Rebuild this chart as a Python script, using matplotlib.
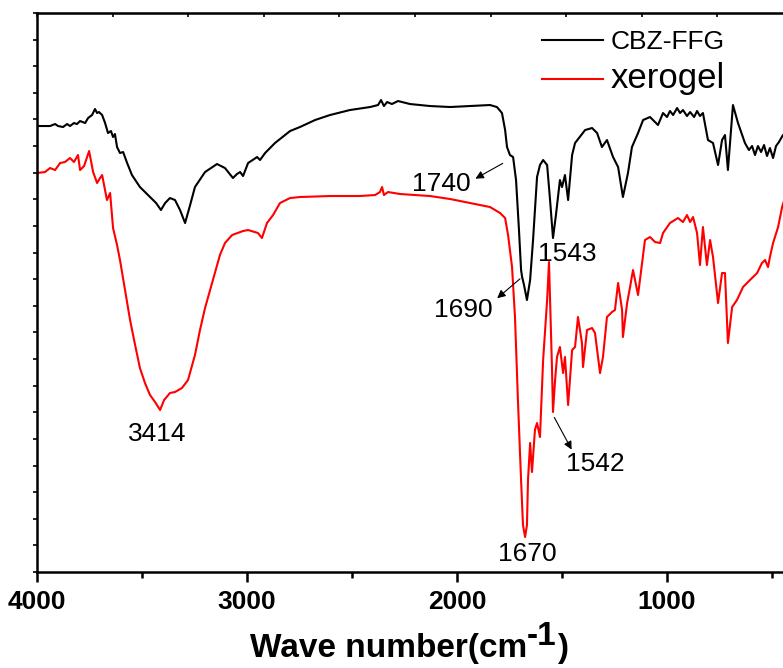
import numpy as np
import matplotlib
matplotlib.use('Agg')
import matplotlib.pyplot as plt

plt.rcParams['font.family'] = ['Liberation Sans', 'DejaVu Sans']

# CBZ-FFG spectrum (wavenumber cm-1, transmittance a.u.)
cbz_wn = [4000, 3995, 3938, 3914, 3900, 3876, 3857, 3843, 3824, 3810, 3795, 3771, 3757, 3738,
          3724, 3714, 3705, 3690, 3676, 3662, 3648, 3638, 3629, 3619, 3605, 3590, 3571, 3548,
          3510, 3462, 3433, 3410, 3390, 3367, 3343, 3319, 3295, 3271, 3248, 3200, 3143, 3105,
          3067, 3048, 3033, 3019, 2995, 2952, 2938, 2914, 2867, 2795, 2748, 2676, 2605, 2510,
          2414, 2376, 2362, 2348, 2333, 2310, 2281, 2224, 2129, 2033, 1938, 1843, 1810, 1786,
          1771, 1762, 1748, 1733, 1719, 1705, 1695, 1690, 1681, 1667, 1652, 1638, 1619, 1605,
          1590, 1571, 1557, 1543, 1529, 1510, 1500, 1486, 1471, 1452, 1438, 1390, 1357, 1333,
          1310, 1286, 1257, 1233, 1210, 1186, 1167, 1138, 1114, 1081, 1043, 1019, 1000, 986,
          971, 952, 938, 924, 905, 890, 871, 857, 843, 829, 805, 781, 757, 738, 724, 710, 686,
          662, 629, 610, 595, 581, 567, 552, 538, 524, 510, 495, 481, 467, 448, 414]
cbz_t = [44.6, 44.6, 44.6, 44.8, 44.6, 44.5, 44.8, 44.6, 44.9, 44.8, 45.1, 44.9, 45.4, 45.7,
         46.3, 45.9, 46.0, 45.7, 44.9, 43.9, 44.1, 43.5, 43.8, 42.5, 41.9, 42.0, 40.9, 39.7,
         38.5, 37.5, 36.9, 36.2, 36.9, 37.4, 37.2, 36.2, 34.9, 36.7, 38.5, 40.0, 40.8, 40.4,
         39.4, 39.8, 40.0, 39.6, 40.9, 41.5, 41.2, 41.9, 42.9, 44.1, 44.5, 45.2, 45.7, 46.2,
         46.5, 46.7, 47.2, 46.6, 47.0, 46.8, 47.1, 46.8, 46.6, 46.5, 46.6, 46.7, 46.5, 45.9,
         44.2, 42.5, 41.7, 41.5, 39.2, 34.2, 30.2, 29.5, 28.7, 27.2, 29.2, 33.2, 39.5, 40.7,
         41.2, 40.7, 37.2, 33.4, 35.7, 39.2, 38.5, 39.7, 37.2, 41.7, 42.9, 44.2, 44.4, 43.9,
         42.5, 43.2, 41.5, 40.5, 37.5, 39.9, 42.5, 43.9, 45.2, 45.5, 44.7, 45.9, 45.5, 46.1,
         45.7, 46.4, 45.9, 46.2, 45.6, 46.0, 45.5, 46.1, 45.6, 45.9, 43.2, 42.9, 40.7, 43.2,
         43.7, 40.2, 46.7, 44.9, 42.9, 42.2, 42.6, 41.7, 42.6, 42.0, 42.7, 41.6, 42.4, 41.4,
         42.6, 43.0, 43.7, 44.2]

# xerogel spectrum
xer_wn = [4000, 3962, 3938, 3914, 3890, 3867, 3843, 3824, 3805, 3795, 3776, 3752, 3733, 3714,
          3700, 3690, 3676, 3667, 3652, 3638, 3619, 3605, 3581, 3557, 3533, 3510, 3486, 3462,
          3438, 3414, 3395, 3367, 3343, 3310, 3281, 3248, 3224, 3200, 3176, 3152, 3129, 3105,
          3071, 3019, 2995, 2948, 2929, 2905, 2876, 2843, 2795, 2748, 2605, 2462, 2390, 2367,
          2357, 2348, 2329, 2271, 2129, 2033, 1938, 1843, 1795, 1771, 1757, 1738, 1724, 1710,
          1695, 1686, 1676, 1667, 1662, 1652, 1643, 1629, 1619, 1605, 1590, 1571, 1562, 1557,
          1548, 1543, 1533, 1524, 1510, 1495, 1486, 1471, 1452, 1438, 1424, 1405, 1400, 1381,
          1357, 1343, 1319, 1305, 1286, 1262, 1248, 1233, 1214, 1210, 1190, 1176, 1162, 1138,
          1119, 1105, 1081, 1057, 1033, 1019, 986, 948, 924, 905, 890, 876, 857, 843, 829, 810,
          795, 781, 757, 738, 724, 710, 690, 667, 638, 605, 571, 548, 533, 519, 510, 495, 471,
          452, 414]
xer_t = [39.9, 40.0, 40.4, 40.2, 40.9, 41.0, 41.4, 41.0, 41.7, 40.2, 40.6, 42.1, 40.0, 38.9,
         39.4, 39.7, 38.2, 37.2, 37.9, 34.4, 32.7, 31.2, 28.2, 25.2, 22.7, 20.4, 18.9, 17.7,
         17.0, 16.2, 17.2, 17.9, 18.0, 18.4, 19.2, 21.7, 24.2, 26.4, 28.2, 30.0, 31.7, 32.9,
         33.7, 34.1, 34.2, 33.9, 33.4, 34.9, 35.7, 36.9, 37.4, 37.5, 37.6, 37.6, 37.7, 38.0,
         38.5, 37.7, 38.0, 37.8, 37.6, 37.3, 36.9, 36.5, 35.9, 35.4, 33.7, 30.5, 25.5, 17.2,
         9.2, 4.7, 3.5, 4.7, 9.2, 12.9, 10.0, 14.2, 14.9, 13.5, 21.2, 27.2, 31.0, 27.2,
         20.5, 16.0, 19.2, 21.5, 22.5, 19.9, 21.5, 16.7, 22.2, 22.5, 25.5, 22.9, 20.5, 24.2,
         24.4, 23.9, 19.9, 21.5, 25.5, 26.0, 26.2, 28.9, 26.2, 23.5, 26.9, 28.5, 30.2, 27.7,
         30.9, 33.2, 33.5, 33.0, 32.9, 33.9, 34.9, 35.4, 35.0, 35.7, 35.0, 35.5, 33.9, 30.7,
         34.5, 30.7, 33.2, 31.5, 26.9, 29.9, 29.9, 22.9, 26.5, 27.2, 28.5, 29.2, 29.9, 30.9,
         31.2, 30.5, 31.5, 32.9, 34.5, 36.5, 39.2]

fig = plt.figure(figsize=(7.83, 6.68), dpi=100)
ax = fig.add_axes([0.0473, 0.1437, 0.9655, 0.8368])

ax.plot(cbz_wn, cbz_t, color='black', lw=1.5, label='CBZ-FFG', solid_joinstyle='round')
ax.plot(xer_wn, xer_t, color='#ff0000', lw=1.5, label='xerogel', solid_joinstyle='round')

ax.set_xlim(4000, 400)
ax.set_ylim(0, 55.9)

ax.set_xticks([4000, 3000, 2000, 1000])
ax.set_xticks([3500, 2500, 1500, 500], minor=True)
ax.set_yticks(np.linspace(0, 55.9, 22))
ax.set_yticklabels([])
for lab in ax.get_xticklabels():
    lab.set_fontweight('bold')
ax.tick_params(axis='x', which='major', direction='out', length=7, width=1.8,
               labelsize=19, pad=6)
ax.tick_params(axis='x', which='minor', direction='out', length=4, width=1.8)
ax.tick_params(axis='y', direction='out', length=3, width=1.2)
for s in ax.spines.values():
    s.set_linewidth(1.8)

# top axis ticks
top = ax.secondary_xaxis('top')
top.set_xticks(np.arange(4000, 399, -360))
top.tick_params(direction='in', length=3, width=1.2, labeltop=False)

# peak labels and arrows
arrow = dict(arrowstyle='-|>', color='black', lw=0.8, mutation_scale=12)
ax.annotate('', xy=(1924, 39.2), xytext=(1771, 41.0), arrowprops=arrow)
ax.text(2076, 38.8, '1740', fontsize=19, ha='center', va='center')
ax.annotate('', xy=(1819, 27.2), xytext=(1690, 29.5), arrowprops=arrow)
ax.text(1971, 26.2, '1690', fontsize=19, ha='center', va='center')
ax.text(1614, 31.8, '1543', fontsize=19, ha='left', va='center')
ax.text(3429, 13.8, '3414', fontsize=19, ha='center', va='center')
ax.text(1667, 1.8, '1670', fontsize=19, ha='center', va='center')
ax.annotate('', xy=(1448, 12.0), xytext=(1543, 15.7), arrowprops=arrow)
ax.text(1343, 10.8, '1542', fontsize=19, ha='center', va='center')

leg = ax.legend(loc='upper left', bbox_to_anchor=(542 / 783, 1 - 30 / 668),
                bbox_transform=fig.transFigure, frameon=False, fontsize=19,
                handlelength=2.3, handletextpad=0.3, labelspacing=0.3,
                borderpad=0, borderaxespad=0)
leg.get_texts()[1].set_fontsize(25)

# x axis title with raised exponent
t1 = fig.text(250 / 783, 1 - 657 / 668, 'Wave number(cm', fontsize=24,
              fontweight='bold', va='baseline')
fig.canvas.draw()
r = fig.canvas.get_renderer()
bb = t1.get_window_extent(r)
t2 = fig.text(bb.x1 / fig.bbox.width, 1 - 645 / 668, '-1',
              fontsize=24, fontweight='bold', va='baseline')
fig.canvas.draw()
bb2 = t2.get_window_extent(r)
fig.text(bb2.x1 / fig.bbox.width, 1 - 657 / 668, ')', fontsize=24,
         fontweight='bold', va='baseline')

fig.savefig('out.png', dpi=100)
